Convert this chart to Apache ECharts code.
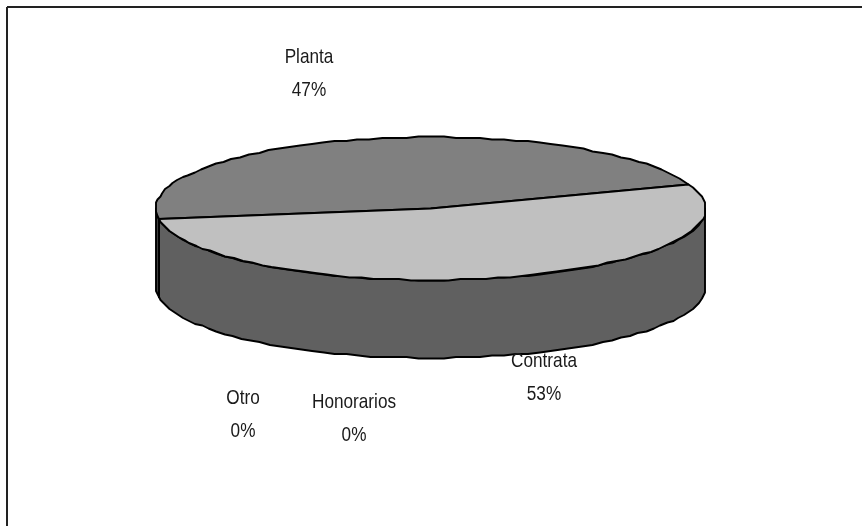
<!DOCTYPE html>
<html>
<head>
<meta charset="utf-8">
<style>html,body{margin:0;padding:0;background:#fff}#c{width:862px;height:526px}</style>
<script src="https://cdn.jsdelivr.net/npm/echarts@6/dist/echarts.min.js"></script>
</head>
<body>
<div id="c"></div>
<script>
const categories = ['Planta', 'Contrata', 'Honorarios', 'Otro'];
const values = [46.6, 53.4, 0, 0];
const topColors = ['#808080', '#c0c0c0', '#e0e0e0', '#a0a0a0'];
const wallColors = ['#404040', '#606060', '#707070', '#505050'];
const labelCentres = [[309, 73.5], [544, 378], [354, 418.5], [243, 414.5]];

const CX = 430.7, CY = 208.5, RX = 275, RY = 71.5, DEPTH = 78, START = 188;
const STEP = 2.6, SNAP = 1.5;
const total = values.reduce((a, b) => a + b, 0);
const snap = v => Math.round(v / SNAP) * SNAP;
const pt = (t, dy) => {
  const r = t * Math.PI / 180;
  return [snap(CX + RX * Math.cos(r)), snap(CY - RY * Math.sin(r)) + dy];
};
function arc(from, to, dy) {
  const n = Math.max(1, Math.ceil(Math.abs(to - from) / STEP));
  const out = [];
  for (let i = 0; i <= n; i++) out.push(pt(from + (to - from) * i / n, dy));
  return out;
}
const line = {stroke: '#000', lineWidth: 1.9, lineJoin: 'round'};

function renderItem(params, api) {
  const i = params.dataIndex;
  let before = 0;
  for (let k = 0; k < i; k++) before += values[k];
  const hi = START - before / total * 360;
  const lo = hi - api.value(0) / total * 360;
  const children = [];
  [[180, 360], [-180, 0]].forEach(([a, b]) => {
    const from = Math.max(lo, a), to = Math.min(hi, b);
    if (from > to) return;
    const pts = arc(from, to, 0).concat(arc(to, from, DEPTH));
    children.push({type: 'polygon', shape: {points: pts},
      style: Object.assign({fill: wallColors[i]}, line)});
  });
  if (hi > lo) {
    const pts = [[CX, CY]].concat(arc(hi, lo, 0));
    children.push({type: 'polygon', shape: {points: pts},
      style: Object.assign({fill: topColors[i]}, line)});
  }
  const pct = Math.round(api.value(0) / total * 100) + '%';
  children.push({type: 'text', x: labelCentres[i][0], y: labelCentres[i][1], scaleY: 1.18, z2: 10,
    style: {text: categories[i] + '\n' + pct, textAlign: 'center', textVerticalAlign: 'middle',
      font: '17.2px "Liberation Sans", Arial, sans-serif', lineHeight: 28, fill: '#1a1a1a'}});
  return {type: 'group', children};
}

const chart = echarts.init(document.getElementById('c'), null, {renderer: 'canvas'});
chart.setOption({
  animation: false,
  backgroundColor: '#fff',
  graphic: [
    {type: 'line', shape: {x1: 7, y1: 7, x2: 862, y2: 7}, style: {stroke: '#222', lineWidth: 2}},
    {type: 'line', shape: {x1: 7, y1: 7, x2: 7, y2: 526}, style: {stroke: '#222', lineWidth: 2}}
  ],
  series: [{
    type: 'custom',
    coordinateSystem: 'none',
    renderItem,
    silent: true,
    data: categories.map((name, i) => ({name, value: [values[i]]}))
  }]
});
</script>
</body>
</html>
